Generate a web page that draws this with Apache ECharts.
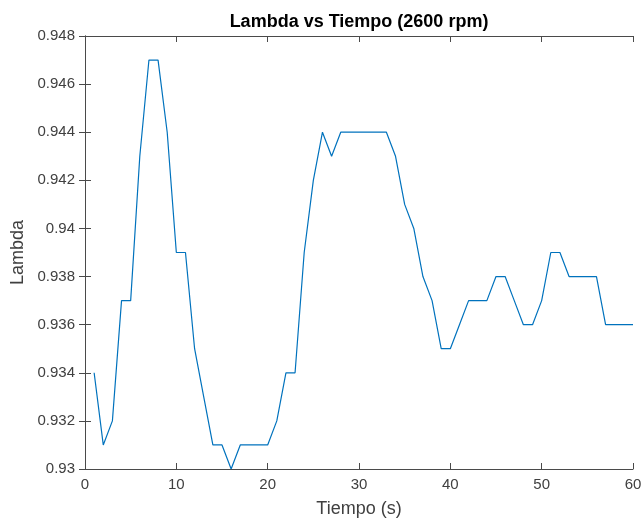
<html>
<head>
<meta charset="UTF-8">
<title>Lambda vs Tiempo</title>
<script src="https://cdn.jsdelivr.net/npm/echarts@6/dist/echarts.min.js"></script>
<style>
  html, body { margin: 0; padding: 0; background: #fff; }
  #chart { width: 642px; height: 521px; }
</style>
</head>
<body>
<div id="chart"></div>
<script>
// tiempo en segundos
var tiempo = [1, 2, 3, 4, 5, 6, 7, 8, 9, 10,
              11, 12, 13, 14, 15, 16, 17, 18, 19, 20,
              21, 22, 23, 24, 25, 26, 27, 28, 29, 30,
              31, 32, 33, 34, 35, 36, 37, 38, 39, 40,
              41, 42, 43, 44, 45, 46, 47, 48, 49, 50,
              51, 52, 53, 54, 55, 56, 57, 58, 59, 60];
// lambda
var lambda = [0.934, 0.931, 0.932, 0.937, 0.937, 0.943, 0.947, 0.947, 0.944, 0.939,
              0.939, 0.935, 0.933, 0.931, 0.931, 0.930, 0.931, 0.931, 0.931, 0.931,
              0.932, 0.934, 0.934, 0.939, 0.942, 0.944, 0.943, 0.944, 0.944, 0.944,
              0.944, 0.944, 0.944, 0.943, 0.941, 0.940, 0.938, 0.937, 0.935, 0.935,
              0.936, 0.937, 0.937, 0.937, 0.938, 0.938, 0.937, 0.936, 0.936, 0.937,
              0.939, 0.939, 0.938, 0.938, 0.938, 0.938, 0.936, 0.936, 0.936, 0.936];
var xTicks = [0, 10, 20, 30, 40, 50, 60];
var yTicks = [0.93, 0.932, 0.934, 0.936, 0.938, 0.94, 0.942, 0.944, 0.946, 0.948];

var fuente = 'Liberation Sans, Arial, sans-serif';
var ejeColor = '#4a4a4a';
var textoColor = '#404040';

var puntos = [];
for (var i = 0; i < tiempo.length; i++) {
  puntos.push([tiempo[i], lambda[i]]);
}

function ejeX(abajo) {
  return {
    type: 'value',
    position: abajo ? 'bottom' : 'top',
    min: xTicks[0],
    max: xTicks[xTicks.length - 1],
    interval: 10,
    name: abajo ? 'Tiempo (s)' : '',
    nameLocation: 'middle',
    nameGap: 31,
    nameTextStyle: { fontFamily: fuente, fontSize: 18, color: textoColor },
    axisLine: { show: true, lineStyle: { color: ejeColor, width: 1 } },
    axisTick: { show: true, inside: true, length: 6, lineStyle: { color: ejeColor } },
    axisLabel: { show: abajo, margin: 8, fontFamily: fuente, fontSize: 15, color: textoColor },
    splitLine: { show: false }
  };
}

function ejeY(izq) {
  return {
    type: 'value',
    position: izq ? 'left' : 'right',
    min: yTicks[0],
    max: yTicks[yTicks.length - 1],
    interval: 0.002,
    name: izq ? 'Lambda' : '',
    nameLocation: 'middle',
    nameGap: 58,
    nameTextStyle: { fontFamily: fuente, fontSize: 18, color: textoColor },
    axisLine: { show: true, lineStyle: { color: ejeColor, width: 1 } },
    axisTick: { show: true, inside: true, length: 6, lineStyle: { color: ejeColor } },
    axisLabel: {
      show: izq, margin: 10, fontFamily: fuente, fontSize: 15, color: textoColor,
      formatter: function (v) { return String(parseFloat(v.toFixed(3))); }
    },
    splitLine: { show: false }
  };
}

var myChart = echarts.init(document.getElementById('chart'), null, { renderer: 'canvas' });
var option = {
  backgroundColor: '#ffffff',
  animation: false,
  title: {
    text: 'Lambda vs Tiempo (2600 rpm)',
    left: 354,
    top: 8,
    textAlign: 'center',
    textStyle: { fontFamily: fuente, fontSize: 18, fontWeight: 'bold', color: '#000' }
  },
  grid: { left: 85, right: 9, top: 36, bottom: 52, outerBoundsMode: 'none' },
  xAxis: [ejeX(true), ejeX(false)],
  yAxis: [ejeY(true), ejeY(false)],
  series: [{
    type: 'line',
    xAxisIndex: 0,
    yAxisIndex: 0,
    data: puntos,
    showSymbol: false,
    lineStyle: { color: '#0072BD', width: 1.2 },
    itemStyle: { color: '#0072BD' }
  }]
};
myChart.setOption(option);
</script>
</body>
</html>
